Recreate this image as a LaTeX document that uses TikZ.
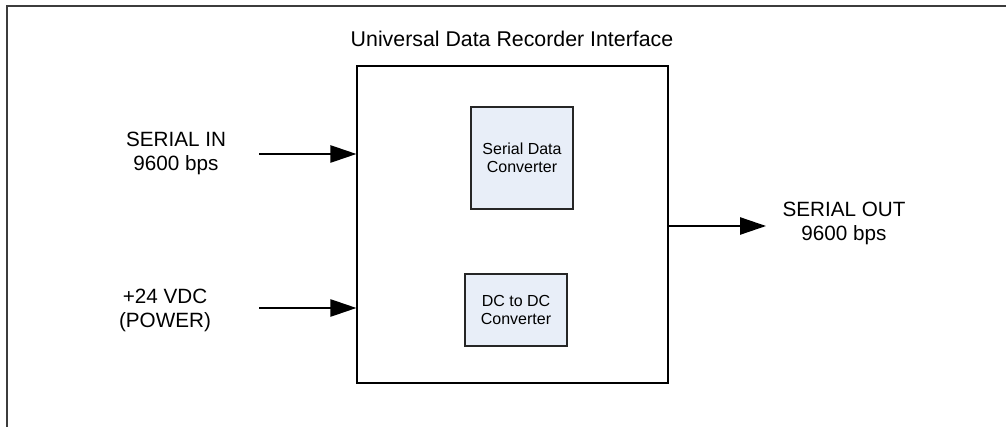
\documentclass[tikz,border=0pt]{standalone}
\usepackage{fontspec}
\setmainfont{Liberation Sans}
\usetikzlibrary{arrows.meta}
\definecolor{boxfill}{RGB}{232,238,248}
\definecolor{framecol}{RGB}{60,60,60}
\tikzset{
  lbl/.style={font=\fontsize{15.5pt}{18pt}\selectfont, align=center, inner sep=0pt},
  inner/.style={draw=black!85, fill=boxfill, line width=0.8pt, align=center, font=\fontsize{12pt}{13.5pt}\selectfont},
  sig/.style={line width=1.1pt, -{Triangle[length=19.5pt,width=13pt]}},
}
\begin{document}
\begin{tikzpicture}[x=0.75pt,y=-0.75pt]
\useasboundingbox (0,0) rectangle (1006,427);
\fill[white] (0,0) rectangle (1006,427);
\draw[framecol, line width=1.2pt] (7,427) -- (7,6) -- (1006,6);
\node[lbl, font=\fontsize{16pt}{18pt}\selectfont] (title) at (512,39) {Universal Data Recorder Interface};
\node[draw=black, line width=0.9pt, minimum width=311*0.75pt, minimum height=317*0.75pt, inner sep=0pt] (main) at (512.5,224.5) {};
\node[inner, minimum width=102*0.75pt, minimum height=102*0.75pt] (sdc) at (522,158) {Serial Data\\Converter};
\node[inner, minimum width=102*0.75pt, minimum height=72*0.75pt] (dc) at (516,310) {DC to DC\\Converter};
\node[lbl] (sin) at (176,153) {SERIAL IN\\9600 bps};
\node[lbl] (pwr) at (165,310) {+24 VDC\\(POWER)};
\node[lbl] (sout) at (844,223) {SERIAL OUT\\9600 bps};
\coordinate (sinA) at (259,154);
\coordinate (pwrA) at (259,308);
\coordinate (soutE) at (766,226);
\draw[sig] (sinA) -- (sinA -| main.west);
\draw[sig] (pwrA) -- (pwrA -| main.west);
\draw[sig] (soutE -| main.east) -- (soutE);
\end{tikzpicture}
\end{document}
